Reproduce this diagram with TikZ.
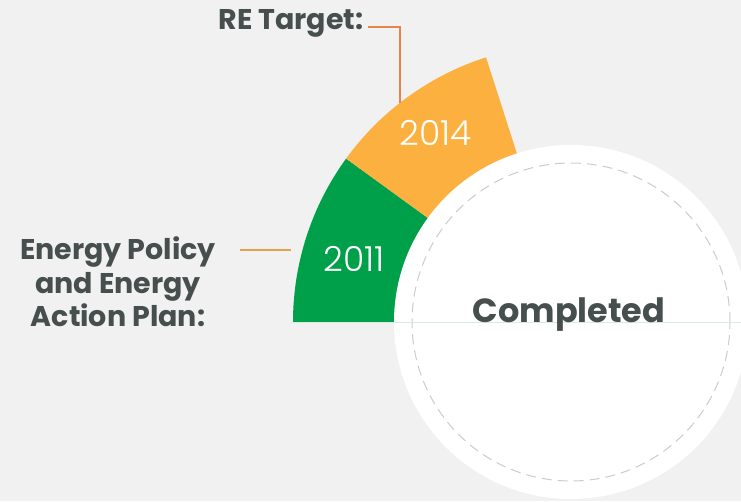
\documentclass[tikz,border=0pt]{standalone}
\usepackage{fontspec}
\setmainfont{Poppins}
\newfontfamily\lightfont{Poppins Light}
\usetikzlibrary{calc}
\definecolor{bgc}{HTML}{F0F1F0}
\definecolor{grn}{HTML}{00A04B}
\definecolor{org}{HTML}{FCB040}
\definecolor{txt}{HTML}{474F4E}
\definecolor{lineA}{HTML}{E8834A}
\definecolor{lineB}{HTML}{E9A04C}
\definecolor{dashc}{HTML}{C9CCD3}
\definecolor{faint}{HTML}{D3ECE4}
\begin{document}
\begin{tikzpicture}[x=1pt,y=1pt,
  lbl/.style={text=txt,font=\bfseries\fontsize{28.5}{33.5}\selectfont,align=center,inner sep=0},
  year/.style={text=white,font=\lightfont\fontsize{34.5}{38}\selectfont,inner sep=0},
  conn/.style={line width=2pt}]
\fill[bgc] (0,0) rectangle (741,501);
\useasboundingbox (0,0) rectangle (741,501);
\coordinate (C) at (571,179);
\fill[grn] (C) -- ++(180:278) arc[start angle=180,end angle=144,radius=278] -- cycle;
\fill[org] (C) -- ++(144:278) arc[start angle=144,end angle=107.8,radius=278] -- cycle;
\node[year] (y2011) at (354,242) {2011};
\node[year] (y2014) at (436,368) {2014};
\node[circle,fill=white,minimum size=354pt,inner sep=0] (done) at (C) {};
\draw[dashc,line width=1pt,dash pattern=on 10pt off 6pt] (C) circle[radius=159];
\draw[faint,line width=0.8pt] (291,179) -- (741,179);
\node[lbl,font=\bfseries\fontsize{33.5}{36}\selectfont] (completed) at (569,186) {Completed};
\node[lbl] (re) at (291,478) {RE Target:};
\coordinate (reEnd) at (400,398);
\draw[lineA,conn] ($(re.east)+(4,-4)$) -| (reEnd);
\node[lbl] (ep) at (118,219) {Energy Policy\\and Energy\\Action Plan:};
\coordinate (epEnd) at (291,251);
\draw[lineB,conn] ($(ep.east |- epEnd)+(24,0)$) -- (epEnd);
\end{tikzpicture}
\end{document}
